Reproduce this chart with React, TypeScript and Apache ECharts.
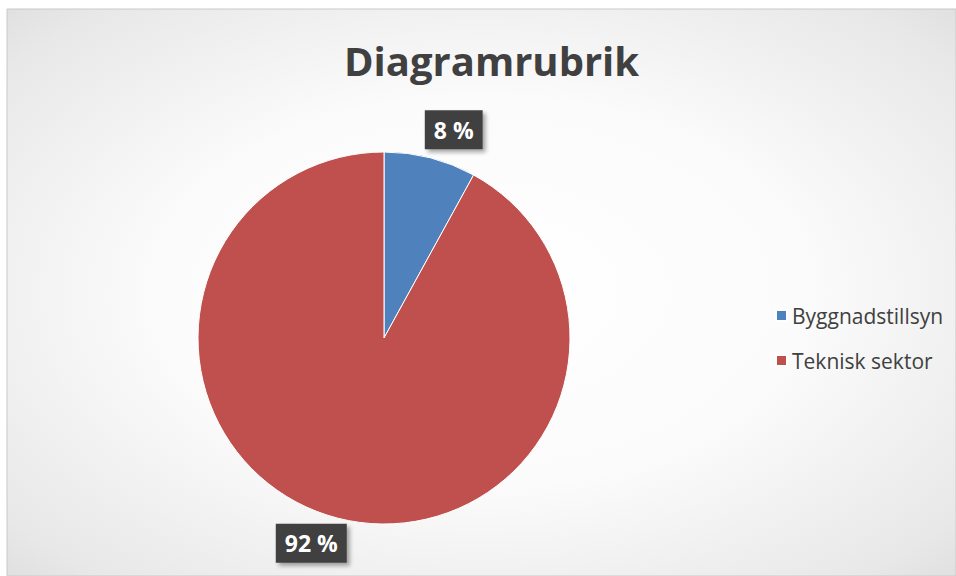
import React, { useEffect, useRef } from "react";
import * as echarts from "echarts";

const categories = ["Byggnadstillsyn", "Teknisk sektor"];
const values = [8, 92];
const colors = ["#4f81bd", "#c0504d"];
const titleText = "Diagramrubrik";

export default function App() {
  const ref = useRef<HTMLDivElement>(null);
  useEffect(() => {
    if (!ref.current) return;
    const chart = echarts.init(ref.current, undefined, { renderer: "svg" });
    chart.setOption({
      animation: false,
      backgroundColor: "#ffffff",
      graphic: [
        {
          type: "rect",
          z: -10,
          silent: true,
          shape: { x: 7, y: 9, width: 949, height: 567 },
          style: {
            fill: new echarts.graphic.RadialGradient(0.5, 0.5, 0.98, [
              { offset: 0, color: "#ffffff" },
              { offset: 0.35, color: "#fbfbfb" },
              { offset: 0.65, color: "#e8e8e8" },
              { offset: 1, color: "#c2c2c2" },
            ]),
            stroke: "#c8c8c8",
            lineWidth: 1,
          },
        },
      ],
      title: {
        text: titleText,
        left: 339,
        top: 35,
        textStyle: {
          fontFamily: "Open Sans",
          fontWeight: "bold",
          fontSize: 40,
          color: "#404040",
        },
      },
      legend: {
        orient: "vertical",
        left: 770,
        top: 298,
        icon: "rect",
        itemWidth: 11,
        itemHeight: 11,
        itemGap: 20,
        data: categories,
        textStyle: {
          fontFamily: "Open Sans",
          fontSize: 21,
          lineHeight: 25,
          color: "#404040",
        },
      },
      series: [
        {
          type: "pie",
          center: [384, 338],
          radius: 186,
          startAngle: 90,
          clockwise: true,
          color: colors,
          itemStyle: { borderColor: "#ffffff", borderWidth: 1 },
          labelLine: { show: false, length: 26, length2: 0 },
          label: {
            show: true,
            position: "outside",
            formatter: (p: any) => p.value + " %",
            fontFamily: "Open Sans",
            fontWeight: "bold",
            fontSize: 23,
            color: "#ffffff",
            backgroundColor: "#404040",
            padding: [8, 9],
            shadowBlur: 4,
            shadowOffsetX: 3,
            shadowOffsetY: 3,
            shadowColor: "rgba(0,0,0,0.35)",
          },
          labelLayout: (p: any) => ({
            align: "center",
            dx: p.dataIndex === 0 ? 12 : -15,
            dy: p.dataIndex === 0 ? -3 : 0,
          }),
          data: categories.map((name, i) => ({ name, value: values[i] })),
        },
      ],
    });
    return () => chart.dispose();
  }, []);
  return (
    <div
      ref={ref}
      style={{ position: "fixed", left: 0, top: 0, width: 956, height: 576 }}
    />
  );
}
